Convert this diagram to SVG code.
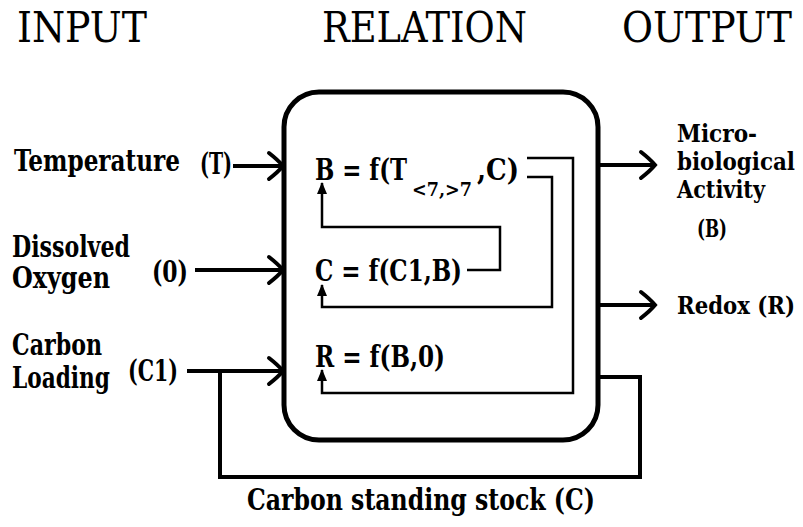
<svg xmlns="http://www.w3.org/2000/svg" width="803" height="527" viewBox="0 0 803 527">
<style>
.t{font-family:"DejaVu Serif Condensed","DejaVu Serif","Liberation Serif",serif;fill:#000}
.title{font-size:42px}
.lab{font-size:29px;font-weight:bold}
.out{font-size:24px;font-weight:bold}
.eq{font-size:30px;font-weight:bold}
.sub{font-size:19px;font-weight:bold}
.ln{fill:none;stroke:#000;stroke-width:4}
.thin{fill:none;stroke:#000;stroke-width:2.5}
.box{fill:#fff;stroke:#000;stroke-width:5}
</style>
<defs>
<marker id="chev" viewBox="-2 -2 20 32" refX="15" refY="14" markerWidth="20" markerHeight="32" markerUnits="userSpaceOnUse" orient="auto" overflow="visible">
<path d="M1,1 Q10,8 15,14 Q10,20 1,27" fill="none" stroke="#000" stroke-width="4" stroke-linecap="round"/>
</marker>
<marker id="tri" viewBox="0 0 12 10" refX="11" refY="5" markerWidth="12" markerHeight="10" markerUnits="userSpaceOnUse" orient="auto">
<path d="M0,0 L12,5 L0,10 z" fill="#000"/>
</marker>
</defs>
<rect width="803" height="527" fill="#fff"/>

<g id="titles">
<text class="t title" x="17" y="42" textLength="130" lengthAdjust="spacingAndGlyphs">INPUT</text>
<text class="t title" x="322" y="42" textLength="205" lengthAdjust="spacingAndGlyphs">RELATION</text>
<text class="t title" x="622" y="42" textLength="170" lengthAdjust="spacingAndGlyphs">OUTPUT</text>
</g>

<g id="relation-box">
<rect class="box" x="284" y="92" width="314" height="348" rx="35" ry="35"/>
</g>

<g id="eq-B">
<text class="t eq" x="315" y="180" textLength="92" lengthAdjust="spacingAndGlyphs">B = f(T</text>
<text class="t sub" x="412" y="196" textLength="60" lengthAdjust="spacingAndGlyphs">&lt;7,&gt;7</text>
<text class="t eq" x="477" y="180" textLength="42" lengthAdjust="spacingAndGlyphs">,C)</text>
</g>
<g id="eq-C">
<text class="t eq" x="315" y="281" textLength="147" lengthAdjust="spacingAndGlyphs">C = f(C1,B)</text>
</g>
<g id="eq-R">
<text class="t eq" x="315" y="367" textLength="130" lengthAdjust="spacingAndGlyphs">R = f(B,0)</text>
</g>

<g id="in-T">
<text class="t lab" x="14" y="171" textLength="166" lengthAdjust="spacingAndGlyphs">Temperature</text>
<text class="t lab" x="200" y="174" textLength="32" lengthAdjust="spacingAndGlyphs">(T)</text>
</g>
<g id="in-O">
<text class="t lab" x="12" y="257" textLength="118" lengthAdjust="spacingAndGlyphs">Dissolved</text>
<text class="t lab" x="12" y="288" textLength="98" lengthAdjust="spacingAndGlyphs">Oxygen</text>
<text class="t lab" x="152" y="282" textLength="36" lengthAdjust="spacingAndGlyphs">(0)</text>
</g>
<g id="in-C1">
<text class="t lab" x="12" y="355" textLength="90" lengthAdjust="spacingAndGlyphs">Carbon</text>
<text class="t lab" x="12" y="388" textLength="98" lengthAdjust="spacingAndGlyphs">Loading</text>
<text class="t lab" x="128" y="381" textLength="50" lengthAdjust="spacingAndGlyphs">(C1)</text>
</g>

<g id="out-B">
<text class="t out" x="677" y="142" textLength="80" lengthAdjust="spacingAndGlyphs">Micro-</text>
<text class="t out" x="677" y="170" textLength="118" lengthAdjust="spacingAndGlyphs">biological</text>
<text class="t out" x="677" y="198" textLength="88" lengthAdjust="spacingAndGlyphs">Activity</text>
<text class="t out" x="697" y="237" textLength="30" lengthAdjust="spacingAndGlyphs">(B)</text>
</g>
<g id="out-R">
<text class="t out" x="677" y="314" textLength="118" lengthAdjust="spacingAndGlyphs">Redox (R)</text>
</g>

<g id="stock-label">
<text class="t lab" x="247" y="510" textLength="348" lengthAdjust="spacingAndGlyphs">Carbon standing stock  (C)</text>
</g>

<g id="connectors">
<path class="ln" d="M233,166 H283" marker-end="url(#chev)"/>
<path class="ln" d="M195,270 H283" marker-end="url(#chev)"/>
<path class="ln" d="M187,371 H283" marker-end="url(#chev)"/>
<path class="ln" d="M598,165 H655" marker-end="url(#chev)"/>
<path class="ln" d="M598,305 H655" marker-end="url(#chev)"/>
<path class="ln" d="M598,377 H640 V477 H220 V371"/>
<path class="thin" d="M527,158 H573 V393 H322 V370" marker-end="url(#tri)"/>
<path class="thin" d="M527,177 H552 V307 H322 V285" marker-end="url(#tri)"/>
<path class="thin" d="M467,270 H500 V227 H322 V183" marker-end="url(#tri)"/>
</g>
</svg>
